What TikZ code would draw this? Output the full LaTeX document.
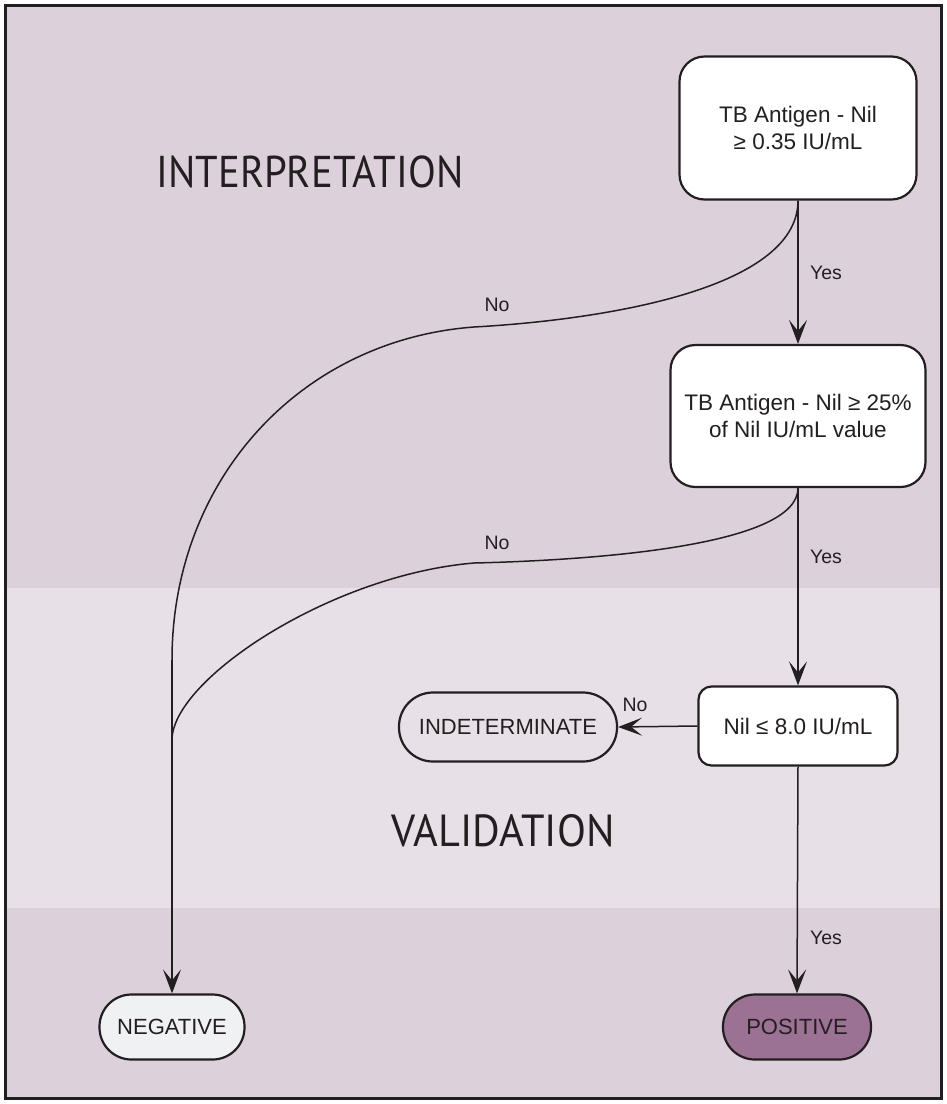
\documentclass[tikz,border=0pt]{standalone}
\usepackage{fontspec}
\setmainfont{Liberation Sans}
\newfontfamily\titlefont{PT Sans}
\usetikzlibrary{arrows.meta}
\definecolor{bgdark}{HTML}{DCD0DB}
\definecolor{bglight}{HTML}{E7E0E6}
\definecolor{ink}{HTML}{231F20}
\definecolor{posfill}{HTML}{9B7194}
\definecolor{negfill}{HTML}{F0F1F3}
\tikzset{
  decbox/.style={draw=ink, line width=2.2pt, fill=white, rounded corners=25pt,
    align=center, text=ink, font=\fontsize{22.5}{26.5}\selectfont, inner sep=0pt},
  endbox/.style={draw=ink, line width=2.2pt, rounded corners=32pt,
    align=center, text=ink, font=\fontsize{22}{26.5}\selectfont, inner sep=0pt,
    minimum height=65pt},
  conn/.style={draw=ink, line width=1.5pt},
  arr/.style={conn, -{Stealth[length=24pt,width=18pt,inset=11pt]}},
  lbl/.style={text=ink, font=\fontsize{19.5}{22}\selectfont, inner sep=0pt},
  ttl/.style={text=ink, inner sep=0pt}
}
\begin{document}
\begin{tikzpicture}[x=1pt,y=-1pt]
\useasboundingbox (0,0) rectangle (947,1104);
% backgrounds
\fill[bgdark] (5.5,5.5) rectangle (941.5,588);
\fill[bglight] (5.5,588) rectangle (941.5,908);
\fill[bgdark] (5.5,908) rectangle (941.5,1098.5);
\draw[ink, line width=3pt] (5.5,5.5) rectangle (941.5,1098.5);

% titles
\node[ttl] (t1) at (310,172) {\resizebox{307pt}{31.7pt}{\titlefont INTERPRETATION}};
\node[ttl] (t2) at (503,831) {\resizebox{223pt}{32pt}{\titlefont VALIDATION}};

% nodes
\node[decbox, minimum width=237pt, minimum height=143pt] (b1) at (798,128)
  {TB Antigen - Nil\\≥ 0.35 IU/mL};
\node[decbox, minimum width=255pt, minimum height=142pt] (b2) at (798,416)
  {TB Antigen - Nil ≥ 25\%\\of Nil IU/mL value};
\node[decbox, rounded corners=13pt, minimum width=199pt, minimum height=79pt] (b3) at (798,726)
  {Nil ≤ 8.0 IU/mL};
\node[endbox, fill=bglight, minimum width=218pt, minimum height=69pt, rounded corners=34pt] (ind) at (508,727)
  {INDETERMINATE};
\node[endbox, fill=negfill, minimum width=145pt] (neg) at (172,1027) {NEGATIVE};
\node[endbox, fill=posfill, minimum width=148pt] (pos) at (797,1027) {POSITIVE};

% yes arrows
\draw[arr] (b1.south) -- (b2.north);
\draw[arr] (b2.south) -- (b3.north);
\draw[arr] (b3.south) -- (pos.north);
\draw[arr] (b3.west) -- (ind.east);

% no curves
\coordinate (v1) at (172,660);
\coordinate (j2) at (172,740);
\coordinate (m1) at (474,327);
\coordinate (m2) at (474,563);
\draw[conn] (b1.south) .. controls (798,290) and (600,320) .. (m1)
  .. controls (300,340) and (172,480) .. (v1);
\draw[arr] (v1) -- (neg.north);
\draw[conn] (b2.south) .. controls (798,545) and (600,560) .. (m2)
  .. controls (330,575) and (172,680) .. (j2);

% labels
\node[lbl] (y1) at (826,273) {Yes};
\node[lbl] (y2) at (826,557) {Yes};
\node[lbl] (y3) at (826,938) {Yes};
\node[lbl] (n1) at (497,305) {No};
\node[lbl] (n2) at (497,543) {No};
\node[lbl] (n3) at (635,705) {No};
\end{tikzpicture}
\end{document}
